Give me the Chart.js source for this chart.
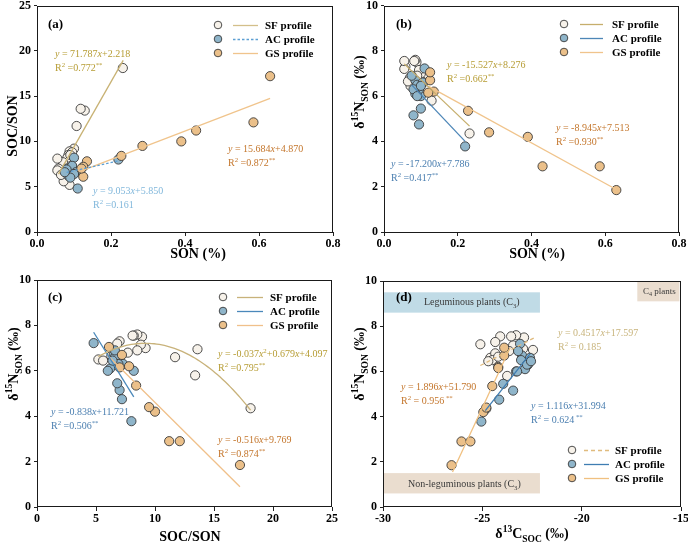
<!DOCTYPE html>
<html><head><meta charset="utf-8">
<script src="https://cdn.jsdelivr.net/npm/chart.js@4.4.0/dist/chart.umd.min.js"></script>
<style>
html,body{margin:0;padding:0;background:#fff;}
#wrap{position:relative;width:688px;height:546px;overflow:hidden;}
.p{position:absolute;}
canvas{display:block;}
</style></head><body>
<div id="wrap">
<div class="p" style="left:0;top:0;"><canvas id="ca" width="344" height="270"></canvas></div>
<div class="p" style="left:344px;top:0;"><canvas id="cb" width="344" height="270"></canvas></div>
<div class="p" style="left:0;top:270px;"><canvas id="cc" width="344" height="276"></canvas></div>
<div class="p" style="left:344px;top:270px;"><canvas id="cd" width="344" height="276"></canvas></div>
</div>
<script>
const FONT = '"Liberation Serif","Times New Roman",serif';

// ---- SF profile samples ----
const sfSON = [0.232,0.129,0.118,0.107,0.100,0.088,0.085,0.082,0.095,0.090,0.070,0.058,0.055,0.088,0.072,0.055,0.065];
const sfCN  = [18.1,13.4,13.6,11.7,9.2,8.9,8.5,8.2,8.8,8.5,7.7,7.0,6.8,5.2,5.6,8.1,6.3];
const sfN15 = [4.35,5.8,6.95,6.6,7.0,7.5,7.6,7.55,7.15,6.9,6.8,7.3,7.2,6.5,6.45,7.55,6.65];
const sfC13 = [-24.8,-23.75,-22.45,-24.6,-22.95,-22.9,-23.3,-24.1,-23.45,-23.65,-24.35,-24.35,-25.1,-24.5,-24.7,-23.55,-24.2];
// ---- AC profile samples ----
const acSON = [0.220,0.110,0.095,0.080,0.100,0.100,0.085,0.090,0.095,0.085,0.105,0.080,0.100,0.090,0.075];
const acCN  = [8.0,4.8,7.2,7.0,6.8,8.2,6.5,6.8,7.3,6.2,6.6,6.9,6.4,6.0,6.6];
const acN15 = [3.78,7.22,4.75,5.15,5.45,6.0,6.7,6.5,6.3,6.1,6.6,6.3,6.45,6.0,6.9];
const acC13 = [-25.05,-23.1,-24.15,-23.45,-23.95,-23.3,-23.0,-23.05,-22.7,-22.85,-22.6,-22.75,-22.55,-23.25,-23.2];
// ---- GS profile samples ----
const gsSON = [0.630,0.585,0.430,0.390,0.285,0.228,0.135,0.125,0.125,0.120];
const gsCN  = [17.2,12.1,11.2,10.0,9.5,8.4,7.8,7.2,6.1,7.0];
const gsN15 = [1.85,2.9,2.9,4.2,4.4,5.35,6.2,6.7,7.05,6.15];
const gsC13 = [-26.55,-25.6,-26.05,-24.95,-24.8,-24.5,-24.2,-23.9,-23.9,-24.2];

// ---- fitted equations (coefficients) and fitted x ranges ----
const fitA_SF = [71.787, 2.218];   const rngA_SF = [0.058, 0.233];
const fitA_AC = [9.053, 5.850];    const rngA_AC = [0.080, 0.220];
const fitA_GS = [15.684, 4.870];   const rngA_GS = [0.120, 0.630];
const fitB_SF = [-15.527, 8.276];  const rngB_SF = [0.055, 0.232];
const fitB_AC = [-17.200, 7.786];  const rngB_AC = [0.075, 0.220];
const fitB_GS = [-8.945, 7.513];   const rngB_GS = [0.120, 0.630];
const fitC_SF = [-0.037, 0.679, 4.097]; const rngC_SF = [5.2, 18.1];
const fitC_AC = [-0.838, 11.721];  const rngC_AC = [4.8, 8.2];
const fitC_GS = [-0.516, 9.769];   const rngC_GS = [6.1, 17.2];
const fitD_SF = [0.4517, 17.597];  const rngD_SF = [-25.1, -22.3];
const fitD_AC = [1.116, 31.994];   const rngD_AC = [-24.85, -22.6];
const fitD_GS = [1.896, 51.790];   const rngD_GS = [-26.5, -23.6];
// R² values
const r2A = ['0.772', '0.161', '0.872'];
const r2B = ['0.662', '0.417', '0.930'];
const r2C = ['0.795', '0.506', '0.874'];
const r2D = ['0.185', '0.624', '0.956'];
// shaded source regions in (d): [xmin, xmax, ymin, ymax]
const boxLegum = [-30, -22.1, 8.6, 9.5];
const boxNonLegum = [-30, -22.1, 0.6, 1.5];
const boxC4 = [-17.2, -15.08, 9.1, 10];

// ---- styles ----
const C_SF_FILL = '#f7f2ea', C_AC_FILL = '#8fb5ca', C_GS_FILL = '#ebc08a';
const C_EQ_SF = '#b69c33', C_EQ_GS = '#c4762c', C_EQ_AC = '#4b7fb0', C_EQ_AC_A = '#80b7db', C_EQ_SF_D = '#c8b47c';

function pairs(xs, ys) { return xs.map((x, i) => ({x: x, y: ys[i]})); }
function linPts(f, r) { return [{x: r[0], y: f[0]*r[0] + f[1]}, {x: r[1], y: f[0]*r[1] + f[1]}]; }
function quadPts(f, r) {
  const out = []; const n = 60;
  for (let i = 0; i <= n; i++) { const x = r[0] + (r[1]-r[0])*i/n; out.push({x: x, y: f[0]*x*x + f[1]*x + f[2]}); }
  return out;
}

function drawRich(ctx, x, y, parts, size, color, bold, align) {
  let w = 0;
  const items = parts.map(p => {
    const t = p[0], s = p[1] || '';
    const small = (s === 'sup' || s === 'sub');
    const fs = small ? size * 0.68 : size;
    const font = (s === 'i' ? 'italic ' : '') + (bold ? 'bold ' : '') + fs + 'px ' + FONT;
    ctx.font = font;
    const tw = ctx.measureText(t).width;
    w += tw;
    return {t, s, font, tw};
  });
  let cx = align === 'center' ? x - w/2 : x;
  ctx.fillStyle = color; ctx.textBaseline = 'alphabetic'; ctx.textAlign = 'left';
  for (const it of items) {
    ctx.font = it.font;
    let dy = 0;
    if (it.s === 'sup') dy = -size * 0.4;
    if (it.s === 'sub') dy = size * 0.25;
    ctx.fillText(it.t, cx, y + dy);
    cx += it.tw;
  }
}

function eqParts(f, d) {
  d = d || 3;
  if (f.length === 3) {
    return [['y', 'i'], [' = ' + f[0].toFixed(3)], ['x', 'i'], ['2', 'sup'], ['+' + f[1].toFixed(3)], ['x', 'i'], ['+' + f[2].toFixed(3)]];
  }
  return [['y', 'i'], [' = ' + f[0].toFixed(d)], ['x', 'i'], ['+' + f[1].toFixed(3)]];
}
function r2Parts(v, star, spaced) {
  const p = [['R'], ['2', 'sup'], [spaced ? ' = ' + v : ' =' + v]];
  if (star) p.push([spaced ? ' **' : '**', 'sup']);
  return p;
}

const N15_TITLE = [['δ'], ['15', 'sup'], ['N'], ['SON', 'sub'], [' (‰)']];

function makePanel(id, cfg) {
  const canvas = document.getElementById(id);
  const ds = [];
  cfg.lines.forEach(l => ds.push({data: l.pts, showLine: true, pointRadius: 0, pointHoverRadius: 0,
    borderColor: l.color, borderWidth: 1.3, borderDash: l.dash || [], order: 0, tension: 0}));
  const fills = [C_SF_FILL, C_AC_FILL, C_GS_FILL];
  const orders = [3, 2, 1];
  cfg.points.forEach((p, i) => ds.push({data: p, showLine: false, pointRadius: 4.6, pointHoverRadius: 4.6,
    pointBackgroundColor: fills[i], pointBorderColor: '#3a3a3a', pointBorderWidth: 0.9, order: orders[i]}));

  const tickFont = {family: FONT, size: 12, weight: 'bold'};
  const deco = {
    id: 'deco',
    beforeDatasetsDraw(chart) {
      const ctx = chart.ctx, xs = chart.scales.x, ys = chart.scales.y;
      (cfg.boxes || []).forEach(b => {
        const x0 = xs.getPixelForValue(b.r[0]), x1 = xs.getPixelForValue(b.r[1]);
        const y0 = ys.getPixelForValue(b.r[3]), y1 = ys.getPixelForValue(b.r[2]);
        ctx.save(); ctx.fillStyle = b.color; ctx.fillRect(x0, y0, x1 - x0, y1 - y0); ctx.restore();
      });
    },
    afterDraw(chart) {
      const ctx = chart.ctx, a = chart.chartArea;
      ctx.save();
      ctx.strokeStyle = '#1a1a1a'; ctx.lineWidth = 1;
      ctx.strokeRect(Math.round(a.left) + 0.5, Math.round(a.top) + 0.5, Math.round(a.right - a.left) - 1, Math.round(a.bottom - a.top) - 1);
      (cfg.boxes || []).forEach(b => drawRich(ctx, b.tx, b.ty, b.text, b.size, '#3a3a3a', false, 'left'));
      drawRich(ctx, cfg.label[0], cfg.label[1], [[cfg.label[2]]], 13, '#000', true, 'left');
      const lg = cfg.legend;
      const names = ['SF profile', 'AC profile', 'GS profile'];
      for (let i = 0; i < 3; i++) {
        const y = lg.rows[i];
        ctx.beginPath(); ctx.arc(lg.mx, y, 3.8, 0, Math.PI * 2);
        ctx.fillStyle = fills[i]; ctx.fill(); ctx.strokeStyle = '#3a3a3a'; ctx.lineWidth = 0.9; ctx.stroke();
        ctx.beginPath(); ctx.setLineDash(lg.dash[i] || []); ctx.moveTo(lg.l0, y + 0.5); ctx.lineTo(lg.l1, y + 0.5);
        ctx.strokeStyle = lg.colors[i]; ctx.lineWidth = 1.3; ctx.stroke(); ctx.setLineDash([]);
        drawRich(ctx, lg.tx, y + 4, [[names[i]]], 11, '#000', true, 'left');
      }
      cfg.eqs.forEach(e => {
        drawRich(ctx, e.x, e.y, e.l1, 10, e.color, false, 'left');
        drawRich(ctx, e.x, e.y + 14, e.l2, 10, e.color, false, 'left');
      });
      drawRich(ctx, cfg.xt[0], cfg.xt[1], cfg.xt[2], 14, '#000', true, 'center');
      ctx.save(); ctx.translate(cfg.yt[0], cfg.yt[1]); ctx.rotate(-Math.PI / 2);
      drawRich(ctx, 0, 0, cfg.yt[2], 14, '#000', true, 'center'); ctx.restore();
      ctx.restore();
    }
  };

  new Chart(canvas, {
    type: 'scatter',
    data: {datasets: ds},
    options: {
      responsive: false, animation: false, events: [],
      layout: {padding: {left: 0, right: cfg.pad.r, top: cfg.pad.t, bottom: 0}},
      plugins: {legend: {display: false}, tooltip: {enabled: false}},
      scales: {
        x: {type: 'linear', min: cfg.x.min, max: cfg.x.max,
          ticks: {stepSize: cfg.x.step, font: tickFont, color: '#000', padding: 1,
            callback: v => cfg.x.fmt(v), maxRotation: 0, autoSkip: false},
          grid: {drawOnChartArea: false, drawTicks: true, tickLength: 4, color: '#222', tickColor: '#222'},
          border: {display: false},
          afterFit(s) { s.height = cfg.pad.h; s.paddingLeft = 0; s.paddingRight = 0; }},
        y: {type: 'linear', min: cfg.y.min, max: cfg.y.max,
          ticks: {stepSize: cfg.y.step, font: tickFont, color: '#000', padding: 3,
            callback: v => String(Math.round(v)), autoSkip: false},
          grid: {drawOnChartArea: false, drawTicks: true, tickLength: 3, color: '#222', tickColor: '#222'},
          border: {display: false},
          afterFit(s) { s.width = cfg.pad.w; s.paddingTop = 0; s.paddingBottom = 0; }}
      }
    },
    plugins: [deco]
  });
}

const f1 = v => v.toFixed(1);
const f0 = v => String(Math.round(v));

// ---- (a) SOC/SON vs SON ----
makePanel('ca', {
  pad: {w: 37, r: 11, t: 5, h: 38},
  x: {min: 0, max: 0.8, step: 0.2, fmt: f1},
  y: {min: 0, max: 25, step: 5},
  points: [pairs(sfSON, sfCN), pairs(acSON, acCN), pairs(gsSON, gsCN)],
  lines: [
    {pts: linPts(fitA_SF, rngA_SF), color: '#c8b274'},
    {pts: linPts(fitA_AC, rngA_AC), color: '#5d9fd3', dash: [2.5, 2]},
    {pts: linPts(fitA_GS, rngA_GS), color: '#f0c48c'}
  ],
  legend: {mx: 218, l0: 233, l1: 258, tx: 265, rows: [25, 39, 53], colors: ['#d3bf8a', '#5d9fd3', '#f0c48c'], dash: [null, [2.5, 2], null]},
  label: [48, 28, '(a)'],
  eqs: [
    {x: 55, y: 57, color: C_EQ_SF, l1: eqParts(fitA_SF), l2: r2Parts(r2A[0], true)},
    {x: 228, y: 152, color: C_EQ_GS, l1: eqParts(fitA_GS), l2: r2Parts(r2A[2], true)},
    {x: 93, y: 194, color: C_EQ_AC_A, l1: eqParts(fitA_AC), l2: r2Parts(r2A[1], false)}
  ],
  xt: [198, 258, [['SON (%)']]],
  yt: [17, 126, [['SOC/SON']]]
});

// ---- (b) δ15N vs SON ----
makePanel('cb', {
  pad: {w: 40, r: 9, t: 5, h: 38},
  x: {min: 0, max: 0.8, step: 0.2, fmt: f1},
  y: {min: 0, max: 10, step: 2},
  points: [pairs(sfSON, sfN15), pairs(acSON, acN15), pairs(gsSON, gsN15)],
  lines: [
    {pts: linPts(fitB_SF, rngB_SF), color: '#c6ae6c'},
    {pts: linPts(fitB_AC, rngB_AC), color: '#4d86b7'},
    {pts: linPts(fitB_GS, rngB_GS), color: '#f0c48c'}
  ],
  legend: {mx: 220, l0: 236, l1: 259, tx: 268, rows: [24, 38, 52], colors: ['#c6ae6c', '#4d86b7', '#f0c48c'], dash: [null, null, null]},
  label: [52, 28, '(b)'],
  eqs: [
    {x: 103, y: 68, color: C_EQ_SF, l1: eqParts(fitB_SF), l2: r2Parts(r2B[0], true)},
    {x: 212, y: 131, color: C_EQ_GS, l1: eqParts(fitB_GS), l2: r2Parts(r2B[2], true)},
    {x: 47, y: 167, color: C_EQ_AC, l1: eqParts(fitB_AC), l2: r2Parts(r2B[1], true)}
  ],
  xt: [193, 258, [['SON (%)']]],
  yt: [20, 92, N15_TITLE]
});

// ---- (c) δ15N vs SOC/SON ----
makePanel('cc', {
  pad: {w: 37, r: 12, t: 10, h: 39},
  x: {min: 0, max: 25, step: 5, fmt: f0},
  y: {min: 0, max: 10, step: 2},
  points: [pairs(sfCN, sfN15), pairs(acCN, acN15), pairs(gsCN, gsN15)],
  lines: [
    {pts: quadPts(fitC_SF, rngC_SF), color: '#c8b27a'},
    {pts: linPts(fitC_AC, rngC_AC), color: '#4a88ba'},
    {pts: linPts(fitC_GS, rngC_GS), color: '#f0c08a'}
  ],
  legend: {mx: 223, l0: 237, l1: 263, tx: 270, rows: [27, 41, 55], colors: ['#c8b27a', '#4a88ba', '#f0c08a'], dash: [null, null, null]},
  label: [48, 31, '(c)'],
  eqs: [
    {x: 218, y: 87, color: C_EQ_SF, l1: eqParts(fitC_SF), l2: r2Parts(r2C[0], true)},
    {x: 51, y: 145, color: C_EQ_AC, l1: eqParts(fitC_AC), l2: r2Parts(r2C[1], true)},
    {x: 218, y: 173, color: C_EQ_GS, l1: eqParts(fitC_GS), l2: r2Parts(r2C[2], true)}
  ],
  xt: [190, 271, [['SOC/SON']]],
  yt: [18, 94, N15_TITLE]
});

// ---- (d) δ15N vs δ13C ----
makePanel('cd', {
  pad: {w: 39, r: 7, t: 11, h: 39},
  x: {min: -30, max: -15, step: 5, fmt: f0},
  y: {min: 0, max: 10, step: 2},
  points: [pairs(sfC13, sfN15), pairs(acC13, acN15), pairs(gsC13, gsN15)],
  lines: [
    {pts: linPts(fitD_SF, rngD_SF), color: '#e0bb7e', dash: [4, 3]},
    {pts: linPts(fitD_AC, rngD_AC), color: '#3f7db2'},
    {pts: linPts(fitD_GS, rngD_GS), color: '#f0c080'}
  ],
  boxes: [
    {r: boxLegum, color: '#c0dbe6', tx: 80, ty: 35, size: 10, text: [['Leguminous plants (C'], ['3', 'sub'], [')']]},
    {r: boxNonLegum, color: '#eaddcf', tx: 64, ty: 217, size: 10, text: [['Non-leguminous plants (C'], ['3', 'sub'], [')']]},
    {r: boxC4, color: '#eaddcf', tx: 299, ty: 24, size: 9, text: [['C'], ['4', 'sub'], [' plants']]}
  ],
  legend: {mx: 228, l0: 240, l1: 265, tx: 271, rows: [180, 194, 208], colors: ['#e0bb7e', '#3f7db2', '#f0c080'], dash: [[4, 3], null, null]},
  label: [52, 31, '(d)'],
  eqs: [
    {x: 214, y: 66, color: C_EQ_SF_D, l1: eqParts(fitD_SF, 4), l2: r2Parts(r2D[0], false, true)},
    {x: 57, y: 120, color: C_EQ_GS, l1: eqParts(fitD_GS), l2: r2Parts(r2D[2], true, true)},
    {x: 187, y: 139, color: C_EQ_AC, l1: eqParts(fitD_AC), l2: r2Parts(r2D[1], true, true)}
  ],
  xt: [188, 268, [['δ'], ['13', 'sup'], ['C'], ['SOC', 'sub'], [' (‰)']]],
  yt: [20, 94, N15_TITLE]
});
</script>
</body></html>
